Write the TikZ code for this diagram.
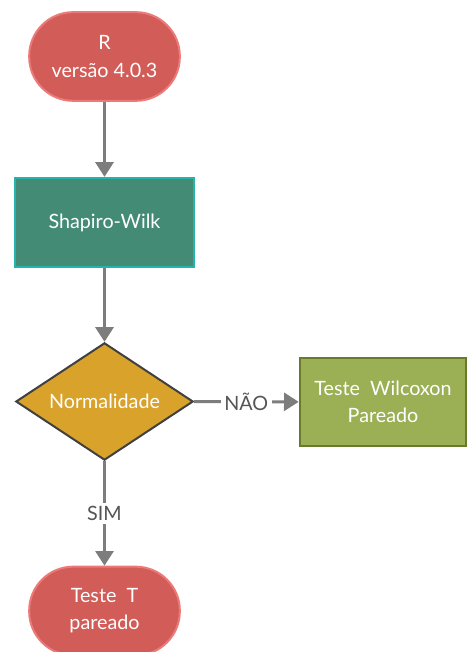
\documentclass[tikz,border=0pt]{standalone}
\usepackage{fontspec}
\setmainfont{Lato}
\usepackage{tikz}
\usetikzlibrary{arrows.meta, shapes.geometric}
\definecolor{TermFill}{RGB}{210,92,88}
\definecolor{TermLine}{RGB}{236,122,120}
\definecolor{ProcFill}{RGB}{68,139,118}
\definecolor{ProcLine}{RGB}{36,180,174}
\definecolor{DecFill}{RGB}{217,162,42}
\definecolor{DecLine}{RGB}{64,64,64}
\definecolor{AltFill}{RGB}{155,175,85}
\definecolor{AltLine}{RGB}{106,122,44}
\definecolor{FlowColor}{RGB}{125,125,125}
\definecolor{LabelColor}{RGB}{85,85,85}
\tikzstyle{terminal} = [draw=TermLine, line width=1.5pt, fill=TermFill, rounded corners=33pt, minimum width=113pt, minimum height=66.5pt, text=white, align=center, font=\fontsize{14.8}{20.3}\selectfont]
\tikzstyle{process} = [draw=ProcLine, line width=1.5pt, fill=ProcFill, minimum width=134.5pt, minimum height=67pt, text=white, align=center, font=\fontsize{14.8}{20.3}\selectfont]
\tikzstyle{decision} = [diamond, aspect=1.5, draw=DecLine, line width=1.5pt, fill=DecFill, inner sep=0pt, minimum width=133pt, minimum height=88pt, text=white, font=\fontsize{14.8}{20.3}\selectfont]
\tikzstyle{outcome} = [draw=AltLine, line width=1.5pt, fill=AltFill, minimum width=125pt, minimum height=65.5pt, text=white, align=center, font=\fontsize{14.8}{20.3}\selectfont]
\tikzstyle{flow} = [line width=2.2pt, FlowColor, -{Triangle[width=13.5pt, length=11pt]}]
\tikzstyle{choice} = [fill=white, text=LabelColor, inner sep=2.5pt, font=\fontsize{14.8}{17}\selectfont]

\begin{document}
\begin{tikzpicture}[x=0.75pt, y=-0.75pt]
    \useasboundingbox (0,0) rectangle (469,652);

    % Start
    \node[terminal] (rv) at (104.5,56.5) {R\\versão 4.0.3};

    % Normality test
    \node[process] (sw) at (104.5,222.5) {Shapiro-Wilk};
    \node[decision] (norm) at (104.5,401.5) {Normalidade};

    % Outcomes
    \node[outcome] (wil) at (383,402) {Teste\ \ Wilcoxon\\Pareado};
    \node[terminal] (tt) at (104.5,611) {Teste\ \ T\\pareado};

    % Connectors
    \draw[flow] (rv) -- (sw);
    \draw[flow] (sw) -- (norm);
    \draw[flow] (norm) -- node[choice] {NÃO} (wil);
    \draw[flow] (norm) -- node[choice] {SIM} (tt);
\end{tikzpicture}
\end{document}
